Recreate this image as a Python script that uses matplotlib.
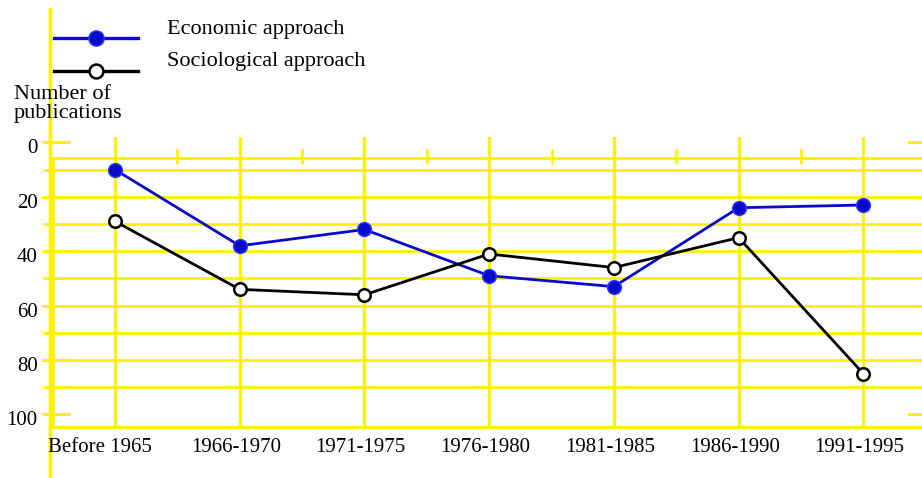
import matplotlib.pyplot as plt
from matplotlib.lines import Line2D
from matplotlib.transforms import ScaledTranslation

periods = ["Before 1965", "1966-1970", "1971-1975", "1976-1980",
           "1981-1985", "1986-1990", "1991-1995"]
economic = [10, 38, 32, 49, 53, 24, 23]
sociological = [29, 54, 56, 41, 46, 35, 85]
y_major = [0, 20, 40, 60, 80, 100]
y_minor = [10, 30, 50, 70, 90]

YELLOW = "#fff200"
BLUE = "#0a0acc"

plt.rcParams["font.family"] = ["Liberation Serif", "DejaVu Serif"]

fig = plt.figure(figsize=(9.22, 4.78), dpi=100)
W, H = 922, 478
# plot area in pixels: left 50, right 922, top 137, bottom 427
ax = fig.add_axes([50 / W, (H - 427) / H, 872 / W, 290 / H])
x = list(range(len(periods)))
ax.set_xlim(-0.521, 6.47)
ax.set_ylim(104.6, -2.0)

for s in ["top", "right", "left"]:
    ax.spines[s].set_visible(False)
ax.spines["bottom"].set_color(YELLOW)
ax.spines["bottom"].set_linewidth(2.2)

# yellow grid
for v in y_major[1:-1] + y_minor:
    ax.axhline(v, xmin=0.003, color=YELLOW, lw=2.0, zorder=1)
ax.axhline(5.7, xmin=0.003, color=YELLOW, lw=2.0, zorder=1)
for xi in x:
    ax.axvline(xi, color=YELLOW, lw=2.2, zorder=1)
ax.vlines([xi + 0.5 for xi in x[:-1]], 2.4, 7.9, color=YELLOW, lw=2.0, zorder=1)
ax.vlines(-0.497, 5.7, 104.6, color=YELLOW, lw=2.0, zorder=1)
# long left axis line
ax.axvline(-0.521, ymin=-0.18, ymax=1.44, color=YELLOW, lw=2.5, clip_on=False, zorder=1)

# custom y tick marks
ytr = ax.get_yaxis_transform()
ax.hlines(y_major, -0.0092, 0.0229, transform=ytr, color=YELLOW, lw=2.2, clip_on=False)
ax.hlines(y_minor, -0.008, 0.0138, transform=ytr, color=YELLOW, lw=2.0, clip_on=False)
ax.hlines(y_major, 0.984, 1.0, transform=ytr, color=YELLOW, lw=2.2, clip_on=False)

ax.set_yticks(y_major)
ax.set_yticklabels([str(v) for v in y_major])
ax.tick_params(axis="y", length=0, pad=9, labelsize=15)
for lab in ax.get_yticklabels():
    lab.set_transform(lab.get_transform() + ScaledTranslation(0, -4 / 100, fig.dpi_scale_trans))

ax.set_xticks(x)
ax.set_xticklabels(periods)
ax.tick_params(axis="x", length=0, pad=8, labelsize=15)
for i, lab in enumerate(ax.get_xticklabels()):
    dx = -15 if i == 0 else -4
    lab.set_transform(lab.get_transform() + ScaledTranslation(dx / 100, 0, fig.dpi_scale_trans))

ax.plot(x, economic, color=BLUE, lw=2.0, marker="o", ms=10,
        mfc=BLUE, mec="#2a3cff", mew=1.0, zorder=3, clip_on=False)
ax.plot(x, sociological, color="black", lw=2.0, marker="o", ms=9,
        mfc="white", mec="black", mew=1.8, zorder=3, clip_on=False)

handles = [
    Line2D([], [], color=BLUE, lw=2.4, marker="o", ms=11, mfc=BLUE, mec="#2a3cff"),
    Line2D([], [], color="black", lw=2.4, marker="o", ms=10, mfc="white", mec="black", mew=1.8),
]
leg = fig.legend(handles, ["Economic approach", "Sociological approach"],
                 loc="upper left", bbox_to_anchor=(54 / W, 1 - 30 / H),
                 frameon=False, fontsize=16, handlelength=3.8, handletextpad=1.3,
                 labelspacing=0.55, borderpad=0, borderaxespad=0, numpoints=1)
# labels sit a little above their line samples
for t in leg.get_texts():
    t.set_transform(t.get_transform() + ScaledTranslation(0, 12 / 100, fig.dpi_scale_trans))

fig.text(14 / W, 1 - 85 / H, "Number of\npublications", fontsize=16,
         va="top", ha="left", linespacing=1.0)

fig.savefig("out.png", dpi=100)
